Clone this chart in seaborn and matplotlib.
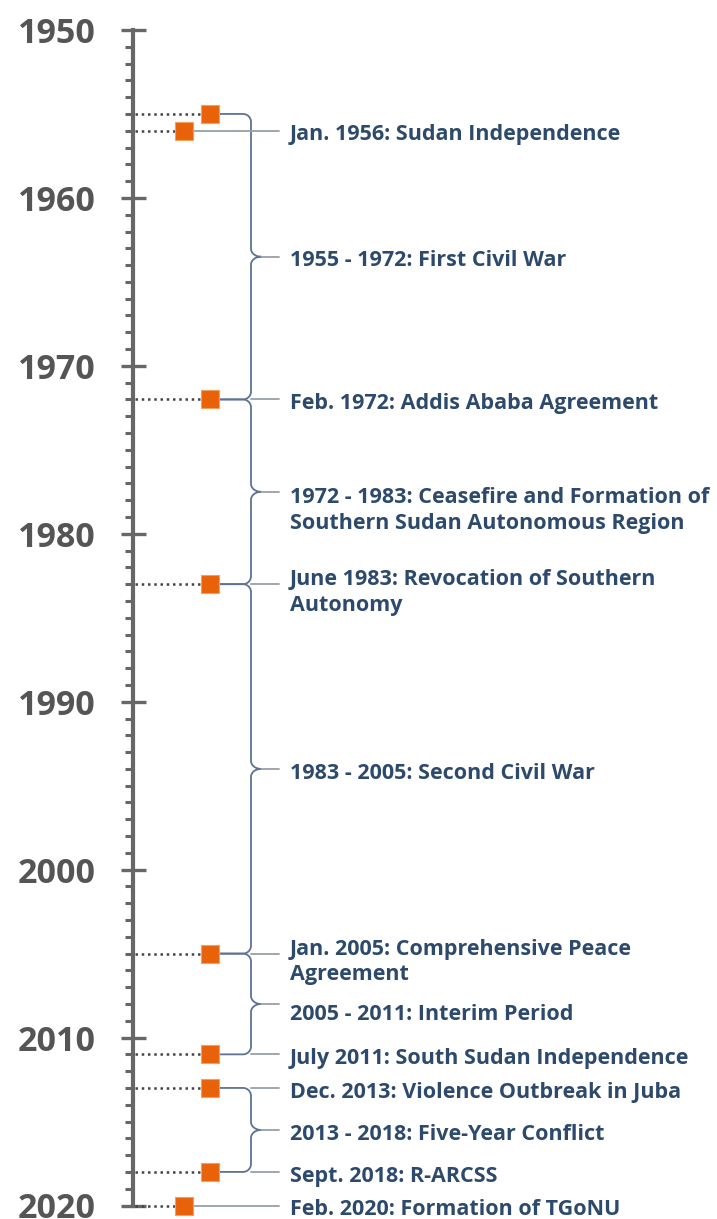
import matplotlib
matplotlib.use("Agg")
import matplotlib.pyplot as plt
import numpy as np
import pandas as pd
import seaborn as sns
from matplotlib.ticker import MultipleLocator

# --------------------------------------------------------------------------
# Data
# --------------------------------------------------------------------------
marker_years = [1955, 1956, 1972, 1983, 2005, 2011, 2013, 2018, 2020]
marker_in_period = [True, False, True, True, True, True, True, True, False]

event_years = [1956, 1972, 1983, 2005, 2011, 2013, 2018, 2020]
event_labels = [
    "Jan. 1956: Sudan Independence",
    "Feb. 1972: Addis Ababa Agreement",
    "June 1983: Revocation of Southern\nAutonomy",
    "Jan. 2005: Comprehensive Peace\nAgreement",
    "July 2011: South Sudan Independence",
    "Dec. 2013: Violence Outbreak in Juba",
    "Sept. 2018: R-ARCSS",
    "Feb. 2020: Formation of TGoNU",
]

period_start = [1955, 1972, 1983, 2005, 2013]
period_end = [1972, 1983, 2005, 2011, 2018]
period_labels = [
    "1955 - 1972: First Civil War",
    "1972 - 1983: Ceasefire and Formation of\nSouthern Sudan Autonomous Region",
    "1983 - 2005: Second Civil War",
    "2005 - 2011: Interim Period",
    "2013 - 2018: Five-Year Conflict",
]

year_min, year_max = 1950, 2020

# --------------------------------------------------------------------------
# Layout (x in figure pixels, y in years)
# --------------------------------------------------------------------------
W, H, DPI = 717, 1219, 100
AXIS_X = 133
COL_PERIOD, COL_SINGLE = 210, 184
MARK_HALF = 9
BRACE_X = 251
TIP_X = 261
LINE_END = 279
TEXT_X = 290
PX_PER_YEAR = (1205.5 - 30) / (year_max - year_min)

ORANGE = "#E8620A"
ORANGE_EDGE = "#F3A15A"
BRACE_C = "#5E7294"
LINK_C = "#97A0A8"
TEXT_C = "#2D4A6D"
AXIS_C = "#676767"
LABEL_SIZE = 15.5

period_text_shift = [0.0, 0.85, 0.0, 0.35, 0.0]
event_text_shift = 0.25

sns.set_theme(style="white")
plt.rcParams["font.family"] = ["Open Sans", "DejaVu Sans"]

fig = plt.figure(figsize=(W / DPI, H / DPI), dpi=DPI)
fig.patch.set_facecolor("white")
ax = fig.add_axes([AXIS_X / W, (H - 1205.5) / H, 1 - AXIS_X / W, (1205.5 - 30) / H])
ax.set_xlim(AXIS_X, W)
ax.set_ylim(year_max, year_min)

markers = pd.DataFrame({
    "year": marker_years,
    "x": [COL_PERIOD if p else COL_SINGLE for p in marker_in_period],
})

# dotted leaders from the axis to each marker
ax.hlines(markers["year"], AXIS_X + 2, markers["x"] - MARK_HALF, colors="#444444",
          linestyles=(0, (1, 1.5)), linewidth=1.8, clip_on=False, zorder=2)


def brace(y1, y2):
    """Curly brace from the marker at y1 to the marker at y2, tip pointing right."""
    r = 8.0
    ry = r / PX_PER_YEAR
    ym = (y1 + y2) / 2
    t = np.linspace(0, np.pi / 2, 20)
    xs, ys = [], []
    # top: marker -> corner -> down
    xs += [COL_PERIOD + MARK_HALF, BRACE_X - r]
    ys += [y1, y1]
    xs += list(BRACE_X - r + r * np.sin(t))
    ys += list(y1 + ry - ry * np.cos(t))
    # into the tip
    xs += list(BRACE_X + (TIP_X - BRACE_X) * (1 - np.cos(t)))
    ys += list(ym - ry + ry * np.sin(t))
    xs += list(TIP_X - (TIP_X - BRACE_X) * np.sin(t))
    ys += list(ym + ry - ry * np.cos(t))
    # bottom corner -> marker
    xs += list(BRACE_X - r + r * np.cos(t))
    ys += list(y2 - ry + ry * np.sin(t))
    xs += [COL_PERIOD + MARK_HALF]
    ys += [y2]
    return np.array(xs), np.array(ys)


for s, e, lab, dy in zip(period_start, period_end, period_labels, period_text_shift):
    bx, by = brace(s, e)
    ax.plot(bx, by, color=BRACE_C, linewidth=1.3, clip_on=False, zorder=3)
    ym = (s + e) / 2
    ax.plot([TIP_X, LINE_END], [ym, ym], color=LINK_C, linewidth=1.3, clip_on=False, zorder=3)
    ax.text(TEXT_X, ym + dy + event_text_shift, lab, color=TEXT_C, fontsize=LABEL_SIZE,
            fontweight="bold", va="center", ha="left", linespacing=1.3, clip_on=False)

single = dict(zip(marker_years, marker_in_period))
for yr, lab in zip(event_years, event_labels):
    x0 = BRACE_X if single[yr] else COL_SINGLE + MARK_HALF
    ax.plot([x0, LINE_END], [yr, yr], color=LINK_C, linewidth=1.3, clip_on=False, zorder=3)
    ax.text(TEXT_X, yr + event_text_shift + (0.25 if "\n" in lab else 0), lab, color=TEXT_C,
            fontsize=LABEL_SIZE, fontweight="bold", va="center", ha="left", linespacing=1.3,
            clip_on=False)

sns.scatterplot(data=markers, x="x", y="year", marker="s", s=175, color=ORANGE,
                edgecolor=ORANGE_EDGE, linewidth=0.8, ax=ax, clip_on=False, zorder=5,
                legend=False)

# the timeline axis itself
for side in ["right", "top", "bottom"]:
    ax.spines[side].set_visible(False)
ax.spines["left"].set_color(AXIS_C)
ax.spines["left"].set_linewidth(3)
ax.set_xticks([])
ax.set_xlabel("")
ax.set_ylabel("")
ax.yaxis.set_major_locator(MultipleLocator(10))
ax.yaxis.set_minor_locator(MultipleLocator(1))
ax.tick_params(axis="y", which="major", direction="inout", length=18, width=2.4,
               color=AXIS_C, pad=18, labelsize=24.5, labelcolor="#555555", left=True)
ax.tick_params(axis="y", which="minor", direction="out", length=5.5, width=2.2,
               color=AXIS_C, left=True)
for lbl in ax.get_yticklabels():
    lbl.set_fontweight("bold")
ax.set_facecolor("none")

fig.savefig("out.png", dpi=DPI, facecolor="white")
